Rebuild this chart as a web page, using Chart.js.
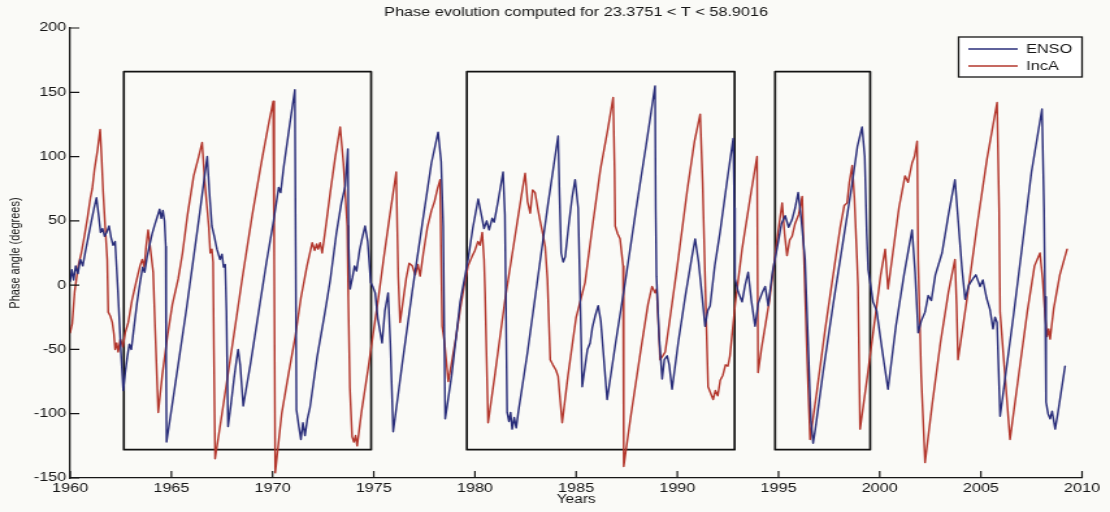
<!DOCTYPE html>
<html>
<head>
<meta charset="utf-8">
<title>Phase evolution</title>
<script src="https://cdn.jsdelivr.net/npm/chart.js@4.4.1/dist/chart.umd.min.js"></script>
<style>
  html, body { margin: 0; padding: 0; background: #fafaf7; overflow: hidden; }
  /* the figure is laid out at 854 px and shown stretched to the 1110 px page width */
  #frame { width: 854px; height: 512px; transform: scaleX(1.29977); transform-origin: 0 0; }
  #phase { display: block; }
</style>
</head>
<body>
<div id="frame"><canvas id="phase" width="854" height="512" style="width:854px;height:512px"></canvas></div>
<script>
// ENSO phase angle, [year, degrees]
const ensoSamples = [
  [1960.00, 3],[1960.08, 12],[1960.17, 4],[1960.27, 15],[1960.38, 9],[1960.50, 20],[1960.62, 15],[1960.75, 26],
  [1960.90, 38],[1961.05, 50],[1961.18, 60],[1961.30, 68],[1961.40, 55],[1961.50, 41],[1961.60, 44],[1961.70, 38],
  [1961.80, 41],[1961.92, 46],[1962.02, 37],[1962.12, 31],[1962.22, 34],[1962.36, -5],[1962.50, -50],[1962.62, -82],
  [1962.72, -68],[1962.82, -56],[1962.92, -46],[1963.02, -50],[1963.15, -33],[1963.30, -14],[1963.45, 2],[1963.58, 14],
  [1963.68, 10],[1963.80, 22],[1963.92, 31],[1964.05, 40],[1964.18, 47],[1964.30, 53],[1964.42, 59],[1964.50, 52],
  [1964.58, 58],[1964.66, 50],[1964.72, 30],[1964.74, -60],[1964.76, -122],[1965.05, -92],[1965.40, -55],[1965.75, -18],
  [1966.10, 22],[1966.40, 56],[1966.60, 80],[1966.77, 100],[1966.88, 72],[1967.00, 46],[1967.12, 38],[1967.25, 28],
  [1967.40, 20],[1967.50, 24],[1967.58, 14],[1967.66, 16],[1967.72, -20],[1967.80, -110],[1967.95, -92],[1968.10, -72],
  [1968.22, -58],[1968.30, -50],[1968.40, -62],[1968.55, -94],[1968.90, -62],[1969.30, -22],[1969.70, 18],[1970.05, 50],
  [1970.30, 76],[1970.40, 72],[1970.55, 92],[1970.85, 125],[1971.10, 152],[1971.14, 30],[1971.18, -97],[1971.30, -110],
  [1971.40, -120],[1971.50, -107],[1971.60, -117],[1971.72, -104],[1971.85, -95],[1972.20, -56],[1972.60, -20],[1972.85, 4],
  [1973.15, 40],[1973.40, 64],[1973.59, 77],[1973.72, 106],[1973.76, 30],[1973.83, -3],[1973.95, 6],[1974.05, 15],
  [1974.15, 11],[1974.30, 27],[1974.42, 36],[1974.57, 46],[1974.70, 34],[1974.85, 2],[1974.95, -1],[1975.07, -6],
  [1975.20, -26],[1975.41, -45],[1975.55, -20],[1975.71, -6],[1975.82, -45],[1975.96, -114],[1976.40, -62],[1976.90, -5],
  [1977.40, 48],[1977.85, 95],[1978.18, 119],[1978.33, 96],[1978.43, 46],[1978.53, -104],[1978.85, -70],[1979.27, -13],
  [1979.66, 20],[1979.90, 45],[1980.16, 67],[1980.30, 56],[1980.45, 44],[1980.58, 50],[1980.70, 43],[1980.85, 52],
  [1980.95, 49],[1981.15, 66],[1981.39, 88],[1981.48, 55],[1981.59, -99],[1981.68, -106],[1981.76, -99],[1981.84, -112],
  [1981.94, -103],[1982.04, -111],[1982.15, -98],[1982.60, -52],[1983.10, 5],[1983.60, 62],[1984.11, 116],[1984.18, 70],
  [1984.26, 25],[1984.36, 18],[1984.46, 22],[1984.62, 45],[1984.80, 68],[1984.95, 82],[1985.10, 60],[1985.30, -79],
  [1985.44, -63],[1985.56, -50],[1985.69, -45],[1985.80, -33],[1985.94, -24],[1986.09, -16],[1986.22, -28],[1986.53, -89],
  [1986.95, -45],[1987.45, 5],[1987.95, 58],[1988.45, 108],[1988.90, 155],[1988.93, 60],[1988.97, 7],[1989.10, -40],
  [1989.25, -73],[1989.36, -58],[1989.50, -55],[1989.60, -62],[1989.74, -81],[1990.05, -44],[1990.40, -8],[1990.70, 20],
  [1990.88, 36],[1991.05, 18],[1991.22, -8],[1991.37, -32],[1991.50, -20],[1991.62, -16],[1991.85, 15],[1992.11, 41],
  [1992.45, 80],[1992.76, 114],[1992.82, 60],[1992.85, 5],[1993.00, -5],[1993.20, -13],[1993.35, 0],[1993.50, 10],
  [1993.66, -12],[1993.84, -32],[1994.00, -14],[1994.19, -6],[1994.34, -1],[1994.49, -16],[1994.70, 10],[1994.98, 33],
  [1995.15, 48],[1995.33, 54],[1995.50, 45],[1995.67, 51],[1995.82, 60],[1995.97, 72],[1996.12, 52],[1996.31, 20],
  [1996.45, -40],[1996.60, -105],[1996.71, -123],[1996.82, -112],[1997.20, -68],[1997.70, -15],[1998.20, 35],[1998.60, 75],
  [1998.90, 108],[1999.13, 123],[1999.26, 100],[1999.36, 40],[1999.43, 12],[1999.55, 0],[1999.67, -13],[1999.85, -20],
  [2000.10, -48],[2000.41, -81],[2000.80, -32],[2001.20, 8],[2001.45, 30],[2001.60, 43],[2001.75, 10],[2001.90, -37],
  [2002.05, -28],[2002.24, -21],[2002.40, -8],[2002.55, -12],[2002.75, 8],[2003.08, 25],[2003.40, 55],[2003.72, 82],
  [2003.88, 50],[2004.07, 12],[2004.22, -11],[2004.40, 0],[2004.61, 5],[2004.75, 8],[2004.96, -1],[2005.10, 4],
  [2005.28, -10],[2005.45, -19],[2005.60, -34],[2005.70, -25],[2005.80, -29],[2005.95, -102],[2006.20, -72],[2006.60, -25],
  [2007.00, 25],[2007.50, 88],[2008.02, 137],[2008.12, 60],[2008.17, -9],[2008.22, -91],[2008.32, -100],[2008.42, -104],
  [2008.52, -98],[2008.67, -112],[2008.80, -100],[2009.16, -63]
];

// IncA phase angle, [year, degrees]
const incaSamples = [
  [1960.00, -37],[1960.10, -30],[1960.22, -5],[1960.40, 15],[1960.55, 25],[1960.70, 38],[1960.85, 52],[1961.00, 68],
  [1961.09, 75],[1961.20, 90],[1961.35, 105],[1961.48, 121],[1961.55, 100],[1961.63, 72],[1961.73, 45],[1961.83, 20],
  [1961.88, -21],[1961.98, -24],[1962.08, -29],[1962.16, -38],[1962.22, -50],[1962.30, -45],[1962.37, -52],[1962.48, -42],
  [1962.60, -48],[1962.72, -37],[1962.87, -29],[1963.05, -12],[1963.25, 2],[1963.45, 15],[1963.56, 20],[1963.66, 14],
  [1963.75, 30],[1963.85, 43],[1963.95, 30],[1964.10, 10],[1964.20, -35],[1964.35, -99],[1964.55, -70],[1964.80, -40],
  [1965.05, -15],[1965.34, 5],[1965.55, 25],[1965.80, 55],[1966.10, 85],[1966.35, 100],[1966.52, 111],[1966.65, 80],
  [1966.77, 59],[1966.85, 45],[1966.92, 25],[1967.00, 28],[1967.06, 18],[1967.10, -50],[1967.16, -135],[1967.50, -100],
  [1968.00, -48],[1968.50, 5],[1969.00, 55],[1969.50, 100],[1969.80, 125],[1970.03, 143],[1970.08, 20],[1970.13, -146],
  [1970.45, -100],[1970.80, -68],[1971.12, -40],[1971.40, -10],[1971.70, 15],[1971.96, 33],[1972.08, 27],[1972.18, 32],
  [1972.25, 28],[1972.35, 33],[1972.45, 25],[1972.60, 42],[1972.85, 72],[1973.10, 100],[1973.34, 123],[1973.50, 95],
  [1973.69, 46],[1973.74, -9],[1973.82, -80],[1973.93, -118],[1974.02, -122],[1974.10, -117],[1974.18, -125],[1974.40, -98],
  [1974.72, -65],[1974.95, -40],[1975.22, -11],[1975.50, 22],[1975.80, 55],[1976.11, 88],[1976.16, 45],[1976.21, 7],
  [1976.30, -29],[1976.45, -12],[1976.60, 5],[1976.75, 17],[1976.90, 15],[1977.05, 8],[1977.18, 16],[1977.29, 7],
  [1977.45, 25],[1977.65, 45],[1977.85, 58],[1978.00, 65],[1978.15, 75],[1978.28, 82],[1978.33, 20],[1978.38, -32],
  [1978.50, -45],[1978.68, -75],[1978.85, -60],[1979.05, -42],[1979.27, -19],[1979.45, -2],[1979.66, 15],[1979.85, 22],
  [1980.00, 27],[1980.15, 34],[1980.25, 31],[1980.36, 41],[1980.45, 20],[1980.50, -6],[1980.65, -107],[1981.00, -68],
  [1981.50, -10],[1982.00, 40],[1982.30, 70],[1982.48, 87],[1982.60, 65],[1982.73, 56],[1982.85, 74],[1982.97, 72],
  [1983.10, 60],[1983.22, 50],[1983.35, 40],[1983.47, 30],[1983.58, 5],[1983.72, -58],[1983.85, -62],[1984.00, -66],
  [1984.11, -71],[1984.31, -107],[1984.60, -70],[1985.00, -25],[1985.44, 2],[1985.80, 45],[1986.20, 90],[1986.55, 120],
  [1986.83, 146],[1986.90, 90],[1986.93, 46],[1987.05, 40],[1987.17, 36],[1987.27, 22],[1987.32, 15],[1987.35, -141],
  [1987.70, -102],[1988.20, -50],[1988.55, -15],[1988.75, -1],[1988.90, -6],[1988.98, -3],[1989.05, -25],[1989.15, -58],
  [1989.28, -55],[1989.40, -52],[1989.60, -30],[1990.00, 15],[1990.50, 75],[1990.85, 112],[1991.13, 133],[1991.25, 80],
  [1991.37, 7],[1991.52, -79],[1991.77, -89],[1991.88, -82],[1992.00, -86],[1992.12, -74],[1992.25, -70],[1992.38, -62],
  [1992.50, -63],[1992.60, -55],[1992.85, -16],[1993.20, 28],[1993.60, 68],[1993.94, 100],[1993.99, -68],[1994.15, -50],
  [1994.34, -32],[1994.55, -12],[1994.73, 10],[1994.95, 38],[1995.18, 64],[1995.30, 40],[1995.42, 23],[1995.55, 35],
  [1995.67, 38],[1995.82, 48],[1996.00, 55],[1996.17, 69],[1996.24, 30],[1996.31, -6],[1996.42, -60],[1996.56, -120],
  [1996.90, -82],[1997.30, -35],[1997.70, 8],[1998.05, 45],[1998.25, 62],[1998.39, 64],[1998.50, 80],[1998.64, 93],
  [1998.75, 68],[1998.88, 20],[1998.93, -1],[1999.03, -112],[1999.40, -70],[1999.80, -22],[2000.05, 8],[2000.27, 28],
  [2000.41, -3],[2000.65, 25],[2000.95, 60],[2001.25, 85],[2001.40, 80],[2001.60, 95],[2001.72, 100],[2001.85, 112],
  [2001.90, 20],[2002.05, -70],[2002.24, -138],[2002.60, -92],[2003.00, -45],[2003.40, -5],[2003.72, 20],[2003.80, -15],
  [2003.87, -58],[2004.30, -12],[2004.80, 45],[2005.30, 98],[2005.80, 142],[2005.90, 60],[2005.95, -21],[2006.10, -52],
  [2006.44, -120],[2006.85, -72],[2007.30, -20],[2007.65, 15],[2007.92, 25],[2008.05, 5],[2008.18, -25],[2008.27, -40],
  [2008.35, -34],[2008.42, -42],[2008.60, -18],[2008.90, 8],[2009.26, 28]
];

// highlighted time windows: [start year, end year], and their phase extent
const boxSpans = [[1962.65, 1974.87], [1979.60, 1992.83], [1994.83, 1999.53]];
const boxPhase = [-128, 166];

// axis ticks
const yearTicks = [1960, 1965, 1970, 1975, 1980, 1985, 1990, 1995, 2000, 2005, 2010];
const phaseTicks = [-150, -100, -50, 0, 50, 100, 150, 200];

const FONT = '"Liberation Sans", Arial, Helvetica, sans-serif';
const INK = '#161616';

const toPoints = rows => rows.map(([x, y]) => ({ x, y }));
const outline = ([l, r]) => [[l, boxPhase[0]], [l, boxPhase[1]], [r, boxPhase[1]], [r, boxPhase[0]], [l, boxPhase[0]]];

// page background
const paper = {
  id: 'paper',
  beforeDraw(chart) {
    const { ctx, width, height } = chart;
    ctx.save();
    ctx.fillStyle = '#fafaf7';
    ctx.fillRect(0, 0, width, height);
    ctx.restore();
  }
};

// tick marks pointing into the plot area
const innerTicks = {
  id: 'innerTicks',
  afterDatasetsDraw(chart) {
    const { ctx, chartArea, scales: { x, y } } = chart;
    ctx.save();
    ctx.strokeStyle = INK;
    ctx.lineWidth = 1.2;
    ctx.beginPath();
    x.ticks.forEach(t => {
      const px = x.getPixelForValue(t.value);
      ctx.moveTo(px, chartArea.bottom);
      ctx.lineTo(px, chartArea.bottom - 7);
    });
    y.ticks.forEach(t => {
      const py = y.getPixelForValue(t.value);
      ctx.moveTo(chartArea.left, py);
      ctx.lineTo(chartArea.left + 7, py);
    });
    ctx.stroke();
    ctx.restore();
  }
};

// framed legend in the upper right corner of the plot
const boxedLegend = {
  id: 'boxedLegend',
  afterDraw(chart) {
    const { ctx, chartArea } = chart;
    const items = chart.data.datasets.filter(d => d.inLegend);
    const w = 95, h = 40;
    const left = chartArea.right - w, top = chartArea.top + 9;
    ctx.save();
    ctx.fillStyle = '#ffffff';
    ctx.fillRect(left, top, w, h);
    ctx.strokeStyle = INK;
    ctx.lineWidth = 1.3;
    ctx.strokeRect(left, top, w, h);
    ctx.font = '12.5px ' + FONT;
    ctx.textBaseline = 'middle';
    ctx.textAlign = 'left';
    items.forEach((d, i) => {
      const cy = top + 12 + i * 17;
      ctx.strokeStyle = d.borderColor;
      ctx.lineWidth = 1.3;
      ctx.beginPath();
      ctx.moveTo(left + 7.5, cy);
      ctx.lineTo(left + 45.5, cy);
      ctx.stroke();
      ctx.fillStyle = INK;
      ctx.fillText(d.label, left + 52, cy + 1);
    });
    ctx.restore();
  }
};

const datasets = [
  { label: 'ENSO', data: toPoints(ensoSamples), borderColor: '#2a2e7a', borderWidth: 1.45, inLegend: true },
  { label: 'IncA', data: toPoints(incaSamples), borderColor: '#b3372d', borderWidth: 1.45, inLegend: true },
  ...boxSpans.map((span, i) => ({
    label: 'Window ' + (i + 1),
    data: toPoints(outline(span)),
    borderColor: '#121212',
    borderWidth: 1.7
  }))
];

new Chart(document.getElementById('phase'), {
  type: 'line',
  data: { datasets },
  plugins: [paper, innerTicks, boxedLegend],
  options: {
    responsive: false,
    animation: false,
    devicePixelRatio: 1,
    events: [],
    layout: { padding: { left: 0, right: 21.5, top: 0, bottom: 0 } },
    elements: {
      point: { radius: 0, hoverRadius: 0 },
      line: { tension: 0, fill: false, borderJoinStyle: 'round', borderCapStyle: 'round' }
    },
    plugins: {
      legend: { display: false },
      tooltip: { enabled: false },
      title: {
        display: true,
        fullSize: false,
        text: 'Phase evolution computed for 23.3751 < T < 58.9016',
        color: INK,
        font: { family: FONT, size: 12.5, weight: 'normal' },
        padding: { top: 5.5, bottom: 7.5 }
      }
    },
    scales: {
      x: {
        type: 'linear',
        min: 1960,
        max: 2010,
        afterBuildTicks: s => { s.ticks = yearTicks.map(v => ({ value: v })); },
        afterFit: s => { s.height = 34; },
        grid: { display: false, drawTicks: false },
        border: { display: true, color: INK, width: 1.3 },
        ticks: {
          color: INK,
          font: { family: FONT, size: 12.5 },
          padding: 3.5,
          maxRotation: 0,
          autoSkip: false,
          callback: v => String(v)
        },
        title: {
          display: true,
          text: 'Years',
          color: INK,
          font: { family: FONT, size: 12 },
          padding: { top: 0, bottom: 4.8 }
        }
      },
      y: {
        type: 'linear',
        min: -150,
        max: 200,
        afterBuildTicks: s => { s.ticks = phaseTicks.map(v => ({ value: v })); },
        afterFit: s => { s.width = 54; },
        grid: { display: false, drawTicks: false },
        border: { display: true, color: INK, width: 1.3 },
        ticks: {
          color: INK,
          font: { family: FONT, size: 12.5 },
          padding: 3,
          callback: v => String(v)
        },
        title: {
          display: true,
          text: 'Phase angle (degrees)',
          color: INK,
          font: { family: FONT, size: 11 },
          padding: { top: 5, bottom: 0 }
        }
      }
    }
  }
});
</script>
</body>
</html>
